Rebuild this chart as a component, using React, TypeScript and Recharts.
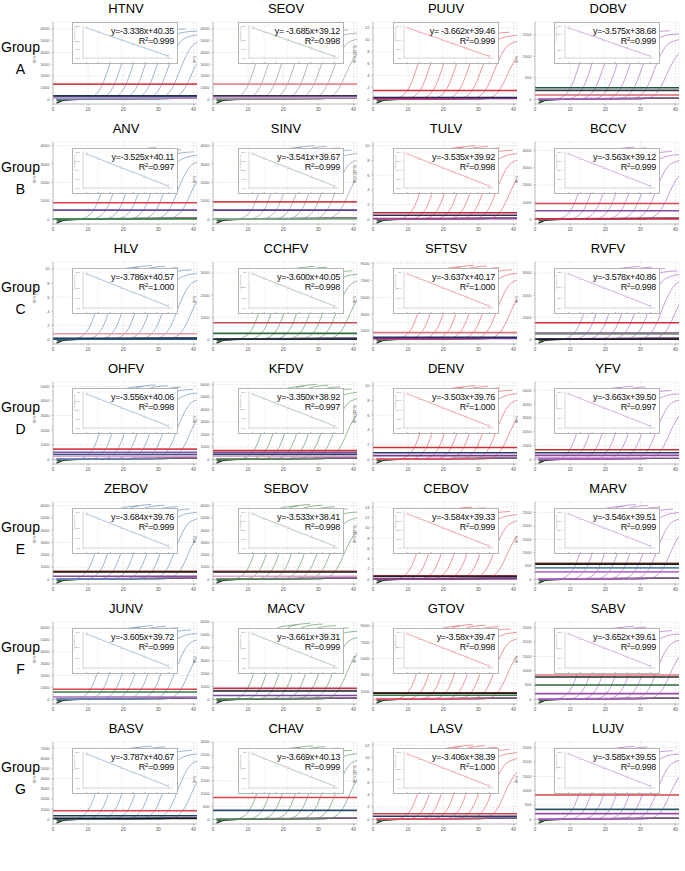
import React from 'react'
import { LineChart, Line, XAxis, YAxis, CartesianGrid, ReferenceLine } from 'recharts'

const groups = ['A', 'B', 'C', 'D', 'E', 'F', 'G']

const viruses = [
  'HTNV', 'SEOV', 'PUUV', 'DOBV',
  'ANV', 'SINV', 'TULV', 'BCCV',
  'HLV', 'CCHFV', 'SFTSV', 'RVFV',
  'OHFV', 'KFDV', 'DENV', 'YFV',
  'ZEBOV', 'SEBOV', 'CEBOV', 'MARV',
  'JUNV', 'MACV', 'GTOV', 'SABV',
  'BASV', 'CHAV', 'LASV', 'LUJV',
]

const equations = [
  'y=-3.338x+40.35', 'y= -3.685x+39.12', 'y= -3.662x+39.46', 'y=-3.575x+38.68',
  'y=-3.525x+40.11', 'y=-3.541x+39.67', 'y=-3.535x+39.92', 'y=-3.563x+39.12',
  'y=-3.786x+40.57', 'y=-3.600x+40.05', 'y=-3.637x+40.17', 'y=-3.578x+40.86',
  'y=-3.556x+40.06', 'y=-3.350x+38.92', 'y=-3.503x+39.76', 'y=-3.663x+39.50',
  'y=-3.684x+39.76', 'y=-3.533x+38.41', 'y=-3.584x+39.33', 'y=-3.546x+39.51',
  'y=-3.605x+39.72', 'y=-3.661x+39.31', 'y=-3.58x+39.47', 'y=-3.652x+39.61',
  'y=-3.787x+40.67', 'y=-3.669x+40.13', 'y=-3.406x+38.39', 'y=-3.585x+39.55',
]

const r2Values = [
  '0.999', '0.998', '0.999', '0.999',
  '0.997', '0.999', '0.998', '0.999',
  '1.000', '0.998', '1.000', '0.998',
  '0.998', '0.997', '1.000', '0.997',
  '0.999', '0.998', '0.999', '0.999',
  '0.999', '0.999', '0.998', '0.999',
  '0.999', '0.999', '1.000', '0.998',
]

// threshold cycles of the eight dilutions (inset x = 1..8)
const ctValues = [
  [37.0, 33.7, 30.3, 27.0, 23.7, 20.3, 17.0, 13.6],
  [35.4, 31.8, 28.1, 24.4, 20.7, 17.0, 13.3, 9.6],
  [35.8, 32.1, 28.5, 24.8, 21.1, 17.5, 13.8, 10.2],
  [35.1, 31.5, 28.0, 24.4, 20.8, 17.2, 13.7, 10.1],
  [36.6, 33.1, 29.5, 26.0, 22.5, 19.0, 15.4, 11.9],
  [36.1, 32.6, 29.0, 25.5, 22.0, 18.4, 14.9, 11.3],
  [36.4, 32.8, 29.3, 25.8, 22.2, 18.7, 15.2, 11.6],
  [35.6, 32.0, 28.4, 24.9, 21.3, 17.7, 14.2, 10.6],
  [36.8, 33.0, 29.2, 25.4, 21.6, 17.9, 14.1, 10.3],
  [36.5, 32.9, 29.3, 25.7, 22.1, 18.5, 14.9, 11.3],
  [36.5, 32.9, 29.3, 25.6, 22.0, 18.4, 14.7, 11.1],
  [37.3, 33.7, 30.1, 26.5, 23.0, 19.4, 15.8, 12.2],
  [36.5, 32.9, 29.4, 25.8, 22.3, 18.7, 15.2, 11.6],
  [35.6, 32.2, 28.9, 25.5, 22.2, 18.8, 15.5, 12.1],
  [36.3, 32.8, 29.3, 25.7, 22.2, 18.7, 15.2, 11.7],
  [35.8, 32.2, 28.5, 24.8, 21.2, 17.5, 13.9, 10.2],
  [36.1, 32.4, 28.7, 25.0, 21.3, 17.7, 14.0, 10.3],
  [34.9, 31.3, 27.8, 24.3, 20.7, 17.2, 13.7, 10.1],
  [35.7, 32.2, 28.6, 25.0, 21.4, 17.8, 14.2, 10.7],
  [36.0, 32.4, 28.9, 25.3, 21.8, 18.2, 14.7, 11.1],
  [36.1, 32.5, 28.9, 25.3, 21.7, 18.1, 14.5, 10.9],
  [35.6, 32.0, 28.3, 24.7, 21.0, 17.3, 13.7, 10.0],
  [35.9, 32.3, 28.7, 25.2, 21.6, 18.0, 14.4, 10.8],
  [36.0, 32.3, 28.7, 25.0, 21.4, 17.7, 14.1, 10.4],
  [36.9, 33.1, 29.3, 25.5, 21.7, 18.0, 14.2, 10.4],
  [36.5, 32.8, 29.1, 25.5, 21.8, 18.1, 14.5, 10.8],
  [35.0, 31.6, 28.2, 24.8, 21.4, 17.9, 14.5, 11.1],
  [36.0, 32.4, 28.8, 25.2, 21.6, 18.0, 14.4, 10.9],
]

// RFU axis top, tick step, plateau level (10^3 panels are in thousands)
const yTops = [6600, 6600, 13, 1800, 4200, 4200, 10.5, 4500, 11, 3500, 9200, 3500, 5300, 6200, 10.5, 5600, 6300, 6300, 15, 2900, 6500, 6000, 9500, 2700, 7600, 3000, 12.5, 2700]
const ySteps = [1000, 1000, 2, 500, 1000, 1000, 2, 1000, 2, 1000, 1000, 1000, 1000, 1000, 2, 1000, 1000, 1000, 2, 500, 1000, 1000, 1000, 500, 1000, 500, 2, 500]
const plateaus = [6200, 6300, 12, 1700, 3900, 4000, 10, 4200, 10.5, 3300, 8800, 3300, 5100, 6000, 10, 5300, 6100, 6100, 14, 2800, 6200, 5900, 9200, 2550, 7200, 2850, 12, 2550]
const scaled = ['PUUV', 'TULV', 'HLV', 'DENV', 'CEBOV', 'LASV']

const thresholds: [number, string][][] = [
  [[1300, '#d9434b'], [300, '#1f2a44'], [230, '#2e4a7a'], [120, '#c98fc0']],
  [[1300, '#e88a8e'], [300, '#2b2b3a'], [240, '#5a4a7a'], [150, '#c9a0c8']],
  [[1.5, '#c9303a'], [0.3, '#1a1a3a'], [0.15, '#7a3a8a']],
  [[270, '#1f5a3a'], [210, '#3a3a4a'], [100, '#dd6670']],
  [[900, '#d9434b'], [500, '#6a4a9a'], [20, '#3a8a3a']],
  [[950, '#d9434b'], [500, '#5a3a8a'], [20, '#7ab07a']],
  [[0.9, '#b8283a'], [0.55, '#3a2a4a'], [0.1, '#8a4a9a']],
  [[920, '#d9434b'], [500, '#8a4aaa'], [30, '#c03040']],
  [[0.8, '#f09aa0'], [0.15, '#1a2a3a'], [0.02, '#2a5a8a']],
  [[750, '#c0505a'], [270, '#2a6a3a'], [10, '#1a2a3a']],
  [[800, '#d97a80'], [250, '#1f2a5a'], [100, '#6a3a8a']],
  [[750, '#c9303a'], [280, '#7a4a9a'], [250, '#7a8a7a'], [10, '#1a1a2a']],
  [[700, '#d9434b'], [480, '#7a5aaa'], [330, '#3a5a8a'], [220, '#e0a0d0']],
  [[700, '#c9303a'], [550, '#7a4a9a'], [400, '#2a3a6a'], [250, '#e0a0c8']],
  [[1.6, '#c9303a'], [0.9, '#2a3a6a'], [0.5, '#7a3a8a']],
  [[700, '#c9303a'], [480, '#2a3a6a'], [300, '#8a4a9a'], [150, '#d0a0d8']],
  [[650, '#a0402a'], [600, '#1a1a1a'], [250, '#8a4a9a']],
  [[650, '#b0404a'], [600, '#2a2a2a'], [250, '#e0a0c8']],
  [[0.7, '#b0303a'], [0.55, '#2a1a2a'], [0.1, '#7a3a8a']],
  [[600, '#a04a2a'], [570, '#1a1a1a'], [430, '#5a8aa8'], [280, '#c070c8']],
  [[850, '#d9434b'], [620, '#3a7a4a'], [200, '#a070b8']],
  [[850, '#b03a4a'], [650, '#1a1a2a'], [300, '#7a4a9a']],
  [[800, '#b0303a'], [750, '#1a1a1a'], [500, '#3a7a4a']],
  [[850, '#e07a80'], [780, '#2a2a2a'], [500, '#2a6a3a'], [200, '#9a4aaa']],
  [[850, '#d9434b'], [350, '#1f3a6a'], [100, '#1a1a1a']],
  [[850, '#d9434b'], [350, '#2a4a6a']],
  [[0.9, '#d9434b'], [0.5, '#2a3a6a']],
  [[850, '#d9434b'], [350, '#2a5a6a'], [200, '#9a4aaa']],
]

// amplification curve shape: cycles from Ct, fraction of plateau
const shapeOffsets = [-12, -6, -4, -3, -2, -1, 0, 1, 2, 3, 4, 5, 6, 8, 10, 14]
const shapeFractions = [0, 0.002, 0.008, 0.02, 0.045, 0.09, 0.16, 0.27, 0.41, 0.56, 0.69, 0.8, 0.88, 0.95, 0.98, 1]
const plateauRel = [0.72, 0.84, 0.9, 0.94, 0.97, 0.99, 1, 0.98]

// baseline traces (fraction of axis top)
const noiseCycles = [1, 2, 3, 5, 8, 12, 16, 20, 25, 30, 35, 38, 41]
const noiseA = [-0.05, -0.03, -0.015, -0.006, 0, 0.003, 0.005, 0.006, 0.008, 0.01, 0.012, 0.014, 0.015]
const noiseB = [-0.02, -0.012, -0.006, -0.002, 0.002, 0.004, 0.006, 0.008, 0.012, 0.016, 0.02, 0.022, 0.024]
const noiseC = [0.01, 0.008, 0.006, 0.006, 0.008, 0.01, 0.012, 0.013, 0.015, 0.017, 0.02, 0.02, 0.021]

const curveColors = ['#5b84b1', '#4f8a52', '#e2505a', '#a55cbf']
const insetColors = ['#9fb6cf', '#a6bfa6', '#f19097', '#c9a0d8']
const colX = [53, 213, 373, 535]
const insetDx = [19, 25, 20, 19]
const PLOT_W = 144
const PLOT_H = 82
const Y_W = 22

const font = '"Liberation Sans", Arial, sans-serif'

function Panel({ i }: { i: number }) {
  const r = Math.floor(i / 4)
  const c = i % 4
  const T = 8 + 120 * r
  const plotTop = T + 14
  const x0 = colX[c]
  const yTop = yTops[i]
  const yMin = -0.06 * yTop
  const ticks: number[] = []
  for (let v = 0; v <= yTop + 1e-9; v += ySteps[i]) ticks.push(v)
  const isScaled = scaled.includes(viruses[i])
  const color = viruses[i] === 'SEOV' ? '#7d8a80' : viruses[i] === 'SINV' ? '#6f8aa8' : curveColors[c]

  const curves = ctValues[i].map((ct, k) => {
    const pts = shapeOffsets.map((o, j) => ({ x: ct + o, y: plateaus[i] * plateauRel[k] * shapeFractions[j] }))
    if (ct - 12 > 1) pts.unshift({ x: 1, y: 0 })
    return pts
  })
  const noise = [noiseA, noiseB, noiseC].map((arr) => noiseCycles.map((x, j) => ({ x, y: arr[j] * yTop })))
  const noiseColors = ['#1a1a1a', '#2f6b3a', '#b070b0']

  const insetData = ctValues[i].map((ct, k) => ({ x: k + 1, ct }))
  const insetTop = r === 0 ? plotTop : plotTop + 6
  const insetH = r === 0 ? 42 : 46

  return (
    <>
      <div style={{ position: 'absolute', left: x0 + 73, top: T - 7, transform: 'translateX(-50%)', fontSize: 13, lineHeight: '15px', fontFamily: font }}>
        {viruses[i]}
      </div>
      <div style={{ position: 'absolute', left: x0 - Y_W, top: plotTop - 3 }}>
        <LineChart width={Y_W + PLOT_W + 3} height={3 + PLOT_H + 12} margin={{ top: 3, right: 3, bottom: 0, left: 0 }}>
          <CartesianGrid strokeDasharray="1.5 1.5" stroke="#c8c8c8" strokeWidth={0.5} />
          <XAxis type="number" dataKey="x" domain={[0, 41]} ticks={[0, 10, 20, 30, 40]} allowDataOverflow height={12}
            tick={{ fontSize: 4.5, fill: '#555' }} tickSize={2} stroke="#999" strokeWidth={0.6} />
          <YAxis type="number" domain={[yMin, yTop]} ticks={ticks} allowDataOverflow width={Y_W}
            tick={{ fontSize: 4, fill: '#555' }} tickSize={1.5} stroke="#999" strokeWidth={0.6}
            label={{ value: isScaled ? 'RFU (10^3)' : 'RFU', angle: -90, position: 'insideLeft', offset: 4, fontSize: 3.5, fill: '#444' }} />
          {noise.map((d, j) => (
            <Line key={'n' + j} data={d} dataKey="y" type="monotone" stroke={noiseColors[j]} strokeWidth={1.2} dot={false} isAnimationActive={false} />
          ))}
          {curves.map((d, k) => (
            <Line key={'c' + k} data={d} dataKey="y" type="monotone" stroke={color} strokeWidth={0.6} dot={false} isAnimationActive={false} />
          ))}
          {thresholds[i].map(([v, col], j) => (
            <ReferenceLine key={'t' + j} y={v} stroke={col} strokeWidth={1.6} ifOverflow="hidden" />
          ))}
        </LineChart>
      </div>
      <div style={{ position: 'absolute', left: x0 + insetDx[c], top: insetTop, width: 106, height: insetH, background: '#fff', border: '1px solid #b5b5b5', boxSizing: 'border-box' }}>
        <LineChart width={104} height={insetH - 2} data={insetData} margin={{ top: 3, right: 4, bottom: 0, left: 0 }}>
          <CartesianGrid strokeDasharray="1 1.5" stroke="#d0d0d0" strokeWidth={0.4} />
          <XAxis type="number" dataKey="x" domain={[0.7, 8.4]} ticks={[1, 2, 3, 4, 5, 6, 7, 8]} height={5}
            tick={{ fontSize: 2.5, fill: '#777' }} tickSize={1} stroke="#aaa" strokeWidth={0.4} />
          <YAxis type="number" domain={['dataMin - 1.5', 'dataMax + 1.5']} width={10}
            tick={{ fontSize: 2.5, fill: '#777' }} tickSize={1} stroke="#aaa" strokeWidth={0.4}
            label={{ value: 'Threshold cycle', angle: -90, position: 'insideLeft', offset: 1, fontSize: 2.2, fill: '#666' }} />
          <Line dataKey="ct" stroke={insetColors[c]} strokeWidth={0.8} isAnimationActive={false}
            dot={{ r: 1, stroke: insetColors[c], strokeWidth: 0.5, fill: '#fff' }} />
        </LineChart>
        <div style={{ position: 'absolute', right: 3, top: 3, textAlign: 'right', fontSize: 9, lineHeight: '10px', letterSpacing: -0.3, fontFamily: font, color: '#111' }}>
          <div>{equations[i]}</div>
          <div>R<sup style={{ fontSize: 6, verticalAlign: 'top', lineHeight: '6px' }}>2</sup>={r2Values[i]}</div>
        </div>
      </div>
    </>
  )
}

export default function App() {
  return (
    <div style={{ position: 'absolute', left: 0, top: 0, width: 685, height: 871, background: '#fff', fontFamily: font }}>
      {groups.map((g, r) => (
        <div key={g} style={{ position: 'absolute', left: 0, width: 41, top: 8 + 120 * r + 28, textAlign: 'center', fontSize: 14, lineHeight: '22px' }}>
          <div>Group</div>
          <div>{g}</div>
        </div>
      ))}
      {viruses.map((v, i) => (
        <Panel key={v} i={i} />
      ))}
    </div>
  )
}
